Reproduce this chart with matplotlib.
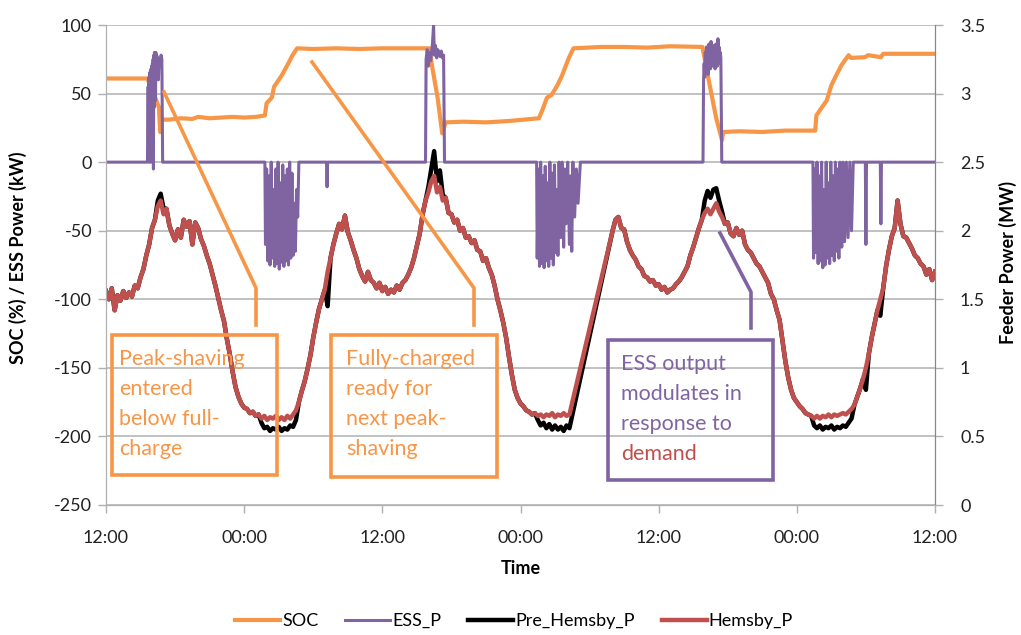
import matplotlib
matplotlib.use('Agg')
import matplotlib.pyplot as plt
from matplotlib.lines import Line2D
from matplotlib.patches import Rectangle
import numpy as np

plt.rcParams['font.family'] = ['Lato', 'DejaVu Sans']
plt.rcParams['axes.unicode_minus'] = False

# ---- data (time in hours from 12:00 of day 1) ----
tick_hours = [0, 12, 24, 36, 48, 60, 72]
tick_labels = ['12:00', '00:00', '12:00', '00:00', '12:00', '00:00', '12:00']

# SOC (%)
soc_t = [0, 3.6, 4.6, 4.7, 4.75, 5.5, 6.5, 7.5, 8.0, 9.0, 10.0, 11.0, 12.0, 13.0, 13.8,
         13.95, 14.4, 14.6, 15.25, 15.9, 16.2, 16.6, 18.0, 20.0, 22.0, 24.0, 26.0, 27.9, 28.1,
         28.3, 28.8, 29.2, 29.5, 31.0, 33.0, 35.0, 37.6, 37.9, 38.3, 38.7, 39.2, 39.6, 40.2,
         40.6, 43.0, 45.0, 47.0, 49.0, 51.8, 52.2, 52.6, 53.0, 53.5, 53.6, 55.0, 57.0, 59.0,
         61.6, 61.7, 62.1, 62.6, 63.0, 63.4, 63.9, 64.5, 64.7, 65.9, 66.2, 67.3, 67.5, 72.0]
soc = [61, 61, 40, 22, 31, 31, 32, 31.5, 33, 32, 32.5, 33, 32.5, 33, 34,
       43, 47, 55, 63, 73, 78, 83, 82.5, 83, 82.5, 83, 83, 83, 83,
       71, 47, 21, 29, 29.5, 29, 30, 32, 38, 47, 49, 56, 63, 76,
       83, 84, 84, 83.5, 84.5, 84, 66, 49, 32, 16, 22, 22.5, 22, 23,
       23, 34, 39, 45, 56, 63, 71, 78, 76, 76.5, 78, 76.5, 79, 79]

# ESS_P (kW)
ess_t = [0, 3.6, 3.66, 3.70, 3.73, 3.76, 3.79, 3.82, 3.85, 3.88, 3.91, 3.94, 3.97, 4.00, 4.03,
         4.06, 4.09, 4.12, 4.15, 4.18, 4.21, 4.24, 4.27, 4.30, 4.33, 4.36, 4.40, 4.45, 4.50,
         4.55, 4.60, 4.65, 4.70, 4.78, 4.85, 4.92,
         13.80, 13.85, 13.95, 14.05, 14.15, 14.25, 14.35, 14.45, 14.55, 14.65, 14.75, 14.85,
         14.95, 15.05, 15.15, 15.25, 15.35, 15.45, 15.55, 15.65, 15.75, 15.85, 15.95, 16.05,
         16.15, 16.25, 16.35, 16.45, 16.55, 16.65, 16.75,
         19.15, 19.2, 19.25,
         27.75, 27.80, 27.90, 28.00, 28.10, 28.20, 28.35, 28.45, 28.52, 28.62, 28.72, 28.82,
         28.92, 29.02, 29.12, 29.22, 29.32, 29.40,
         37.40, 37.45, 37.55, 37.65, 37.75, 37.85, 37.95, 38.05, 38.15, 38.25, 38.35, 38.45,
         38.55, 38.65, 38.75, 38.85, 38.95, 39.05, 39.15, 39.25, 39.35, 39.50, 39.60, 39.75,
         39.85, 39.95, 40.10, 40.25, 40.35, 40.45, 40.55, 40.70, 40.85, 41.00, 41.20,
         51.85, 51.90, 51.95, 52.00, 52.05, 52.10, 52.15, 52.20, 52.25, 52.30, 52.35, 52.40,
         52.45, 52.50, 52.55, 52.60, 52.65, 52.70, 52.75, 52.80, 52.85, 52.90, 52.95, 53.00,
         53.05, 53.10, 53.15, 53.20, 53.25, 53.30, 53.35, 53.40, 53.48,
         61.40, 61.45, 61.55, 61.65, 61.75, 61.85, 61.95, 62.05, 62.15, 62.25, 62.35, 62.45,
         62.55, 62.65, 62.75, 62.85, 62.95, 63.05, 63.15, 63.25, 63.35, 63.45, 63.55, 63.65,
         63.75, 63.90, 64.00, 64.15, 64.30, 64.45, 64.60, 64.75, 64.90,
         65.95, 66.00, 66.05, 67.25, 67.30, 67.35, 72.0]
ess_kw = [0, 0, 55, 5, 62, 0, 65, 10, 66, 0, 68, 20, 70, 30, 72,
          0, 75, -5, 78, 40, 80, 50, 79, 45, 80, 60, 78, 70, 76,
          60, 74, 70, 72, 78, 75, 0,
          0, -60, -5, -72, -10, -75, 0, -70, -20, -76, -5, -74,
          0, -78, -15, -73, -2, -76, -10, -72, -5, -75, 0, -70,
          -8, -68, -30, -65, -20, -40, 0,
          0, -18, 0,
          0, 75, 82, 70, 80, 74, 86, 100, 78, 85, 76, 82,
          79, 77, 81, 76, 78, 0,
          0, -70, -5, -76, 0, -74, -10, -77, -3, -72, -15, -76,
          0, -70, -8, -75, -2, -66, -20, -68, 0, -55, 0, -62,
          -5, -45, 0, -60, -10, -65, 0, -40, -5, -30, 0,
          0, 60, 72, 62, 80, 66, 84, 70, 82, 64, 86, 72,
          80, 68, 88, 74, 82, 70, 85, 72, 80, 68, 86, 74,
          82, 70, 90, 76, 84, 72, 80, 76, 0,
          0, -70, -5, -66, 0, -74, -10, -72, 0, -77, -20, -75,
          0, -70, -15, -74, 0, -68, -10, -72, 0, -65, -5, -70,
          0, -62, 0, -58, 0, -55, 0, -50, 0,
          0, -60, 0, 0, -45, 0, 0]

# Hemsby_P (MW), every 15 min; logging gap between 40.25 h and 44 h
hemsby_a = [1.56, 1.50, 1.58, 1.42, 1.53, 1.49, 1.56, 1.51,
            1.55, 1.52, 1.60, 1.58, 1.66, 1.72, 1.82, 1.90,
            2.02, 2.08, 2.18, 2.22, 2.12, 2.16, 2.04, 1.98,
            1.93, 2.01, 1.95, 2.08, 2.03, 2.07, 1.90, 2.06,
            2.02, 1.94, 1.89, 1.82, 1.76, 1.68, 1.60, 1.51,
            1.42, 1.34, 1.21, 1.10, 0.97, 0.86, 0.79, 0.74,
            0.71, 0.70, 0.67, 0.68, 0.65, 0.66, 0.63, 0.65,
            0.62, 0.64, 0.63, 0.65, 0.62, 0.64, 0.62, 0.65,
            0.63, 0.66, 0.69, 0.75, 0.83, 0.90, 0.99, 1.09,
            1.22, 1.33, 1.43, 1.50, 1.57, 1.70, 1.80, 1.90,
            1.98, 2.05, 2.01, 2.11, 1.99, 1.93, 1.86, 1.80,
            1.72, 1.67, 1.63, 1.70, 1.64, 1.62, 1.58, 1.62,
            1.56, 1.59, 1.54, 1.57, 1.55, 1.60, 1.57, 1.62,
            1.64, 1.68, 1.73, 1.80, 1.89, 1.98, 2.12, 2.22,
            2.28, 2.36, 2.40, 2.28, 2.32, 2.22, 2.24, 2.13,
            2.12, 2.06, 2.08, 2.00, 2.02, 1.95, 1.96, 1.91,
            1.93, 1.86, 1.85, 1.78, 1.80, 1.73, 1.68, 1.60,
            1.50, 1.42, 1.33, 1.22, 1.08, 0.95, 0.84, 0.78,
            0.74, 0.72, 0.69, 0.68, 0.66, 0.67, 0.65, 0.66,
            0.64, 0.66, 0.65, 0.67, 0.64, 0.66, 0.65, 0.67,
            0.65, 0.66]
hemsby_b = [2.00, 2.08, 2.10, 2.02, 2.01, 1.92, 1.86, 1.82,
            1.79, 1.74, 1.72, 1.67, 1.66, 1.63, 1.64, 1.60,
            1.61, 1.57, 1.59, 1.55, 1.57, 1.58, 1.61, 1.63,
            1.66, 1.70, 1.74, 1.82, 1.88, 1.95, 2.02, 2.08,
            2.13, 2.16, 2.12, 2.16, 2.20, 2.14, 2.10, 2.05,
            2.06, 1.98, 1.96, 2.02, 1.97, 2.00, 1.90, 1.86,
            1.84, 1.80, 1.76, 1.74, 1.70, 1.66, 1.62, 1.54,
            1.50, 1.42, 1.35, 1.20, 1.05, 0.93, 0.84, 0.78,
            0.75, 0.72, 0.70, 0.67, 0.66, 0.65, 0.63, 0.65,
            0.63, 0.65, 0.64, 0.66, 0.64, 0.66, 0.65, 0.66,
            0.67, 0.66, 0.68, 0.70, 0.73, 0.79, 0.85, 0.92,
            1.00, 1.10, 1.22, 1.32, 1.42, 1.50, 1.58, 1.74,
            1.86, 1.96, 2.02, 2.22, 2.05, 1.96, 1.95, 1.91,
            1.87, 1.82, 1.80, 1.76, 1.74, 1.68, 1.72, 1.64,
            1.70]

# Pre_Hemsby_P: same feed before ESS action, differs where the ESS works
pre_a = list(hemsby_a)
pre_a[18:21] = [2.22, 2.27, 2.16]
pre_a[54:67] = [0.60, 0.56, 0.57, 0.54, 0.56, 0.55, 0.57, 0.54, 0.56, 0.55, 0.58, 0.57, 0.62]
pre_a[77] = 1.45
pre_a[112:118] = [2.32, 2.45, 2.58, 2.36, 2.44, 2.26]
pre_a[150:162] = [0.62, 0.58, 0.60, 0.56, 0.59, 0.55, 0.58, 0.55, 0.57, 0.54, 0.58, 0.56]
pre_b = list(hemsby_b)
pre_b[32:39] = [2.22, 2.29, 2.24, 2.30, 2.31, 2.22, 2.14]
pre_b[70:84] = [0.58, 0.56, 0.58, 0.55, 0.57, 0.56, 0.58, 0.55, 0.57, 0.56, 0.58, 0.57, 0.60, 0.63]
pre_b[88] = 0.84
pre_b[93] = 1.38

feed_t = np.concatenate([np.arange(len(hemsby_a)) * 0.25, 44 + np.arange(len(hemsby_b)) * 0.25])
hemsby = hemsby_a + hemsby_b
pre_hemsby = pre_a + pre_b

c_soc = '#F79646'
c_ess = '#8064A2'
c_pre = '#000000'
c_hem = '#C0504D'

fig = plt.figure(figsize=(10.21, 6.35), dpi=100)
ax = fig.add_axes([106 / 1021, 1 - 505 / 635, 829 / 1021, 480 / 635])
ax2 = ax.twinx()

ax.plot(soc_t, soc, color=c_soc, lw=3.0, label='SOC')
ax.plot(ess_t, ess_kw, color=c_ess, lw=2.2, label='ESS_P')
ax2.plot(feed_t, pre_hemsby, color=c_pre, lw=3.2, label='Pre_Hemsby_P')
ax2.plot(feed_t, hemsby, color=c_hem, lw=3.2, label='Hemsby_P')

ax.set_xlim(0, 72)
ax.set_ylim(-250, 100)
ax.set_yticks(range(-250, 101, 50))
ax2.set_ylim(0, 3.5)
ax2.set_yticks([0, 0.5, 1, 1.5, 2, 2.5, 3, 3.5])
ax2.set_yticklabels(['0', '0.5', '1', '1.5', '2', '2.5', '3', '3.5'])
ax.set_xticks(tick_hours)
ax.set_xticklabels(tick_labels)

ax.grid(axis='y', color='#B0B0B0', lw=1.1)
ax.set_axisbelow(True)
for a in (ax, ax2):
    a.spines['top'].set_visible(False)
    a.spines['left'].set_color('#B0B0B0')
    a.spines['bottom'].set_color('#B0B0B0')
    a.spines['right'].set_color('#868686')
    a.tick_params(labelsize=13, colors='#222222', length=6, width=1, pad=4)
ax.tick_params(axis='x', colors='#B0B0B0', labelcolor='#222222', pad=12)
ax.tick_params(axis='y', colors='#B0B0B0', labelcolor='#222222')
ax2.tick_params(axis='y', colors='#B0B0B0', labelcolor='#222222', pad=12)

ax.set_xlabel('Time', fontsize=13, fontweight='bold', labelpad=10)
fig.text(18 / 1021, 1 - 258 / 635, 'SOC (%) / ESS Power (kW)', rotation=90, fontsize=13,
         fontweight='bold', ha='center', va='center')
fig.text(1008 / 1021, 1 - 262 / 635, 'Feeder Power (MW)', rotation=90, fontsize=13,
         fontweight='bold', ha='center', va='center')

fig.legend(loc='center', bbox_to_anchor=(514 / 1021, 1 - 621 / 635), ncol=4, frameon=False,
           fontsize=13, handlelength=2.5, handletextpad=0.1, columnspacing=1.5)


# ---- callouts (figure pixel positions) ----
def fx(x):
    return x / 1021


def fy(y):
    return 1 - y / 635


def callout(box, leader, color, lines, tx, ty, colors=None):
    x0, y0, x1, y1 = box
    fig.add_artist(Rectangle((fx(x0), fy(y1)), fx(x1) - fx(x0), fy(y0) - fy(y1),
                             transform=fig.transFigure, fill=False, ec=color, lw=2.6))
    xs = [fx(p[0]) for p in leader]
    ys = [fy(p[1]) for p in leader]
    fig.add_artist(Line2D(xs, ys, transform=fig.transFigure, color=color, lw=2.6))
    for i, s in enumerate(lines):
        c = colors[i] if colors else color
        fig.text(fx(tx), fy(ty + i * 30), s, color=c, fontsize=15.5, ha='left', va='center')


callout((112, 335, 277, 475), [(256, 325), (256, 288), (164, 92)], c_soc,
        ['Peak-shaving', 'entered', 'below full-', 'charge'], 119, 359)
callout((331, 335, 497, 477), [(474, 325), (474, 288), (312, 62)], c_soc,
        ['Fully-charged', 'ready for', 'next peak-', 'shaving'], 346, 359)
callout((608, 340, 773, 480), [(751, 328), (751, 292), (720, 233)], c_ess,
        ['ESS output', 'modulates in', 'response to', 'demand'], 621, 364,
        colors=[c_ess, c_ess, c_ess, c_hem])

fig.savefig('out.png', dpi=100)
